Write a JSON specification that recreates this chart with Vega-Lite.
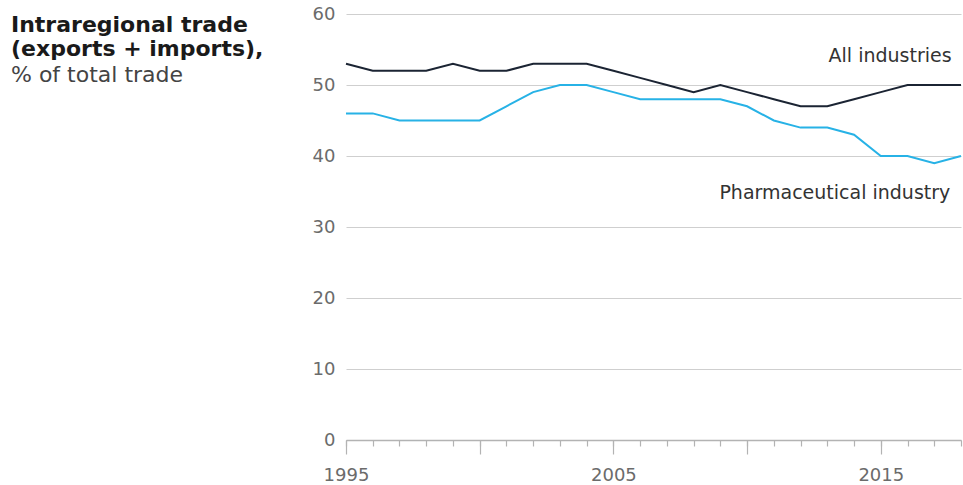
{
  "$schema": "https://vega.github.io/schema/vega-lite/v6.json",
  "width": 615,
  "height": 426,
  "autosize": "none",
  "padding": {"left": 346, "top": 14, "right": 2, "bottom": 45},
  "background": "white",
  "config": {
    "view": {"stroke": null},
    "font": "DejaVu Sans"
  },
  "title": {
    "text": ["Intraregional trade", "(exports + imports),"],
    "subtitle": "% of total trade",
    "anchor": "start",
    "frame": "group",
    "dx": -335,
    "dy": 86,
    "font": "DejaVu Sans",
    "fontSize": 22,
    "fontWeight": "bold",
    "color": "#1a1a1a",
    "lineHeight": 24,
    "subtitleFont": "DejaVu Sans",
    "subtitleFontSize": 22,
    "subtitleColor": "#444444",
    "subtitlePadding": 4,
    "subtitleLineHeight": 23
  },
  "datasets": {
    "trade": [
      {"year": 1995, "series": "All industries", "share": 53},
      {"year": 1996, "series": "All industries", "share": 52},
      {"year": 1997, "series": "All industries", "share": 52},
      {"year": 1998, "series": "All industries", "share": 52},
      {"year": 1999, "series": "All industries", "share": 53},
      {"year": 2000, "series": "All industries", "share": 52},
      {"year": 2001, "series": "All industries", "share": 52},
      {"year": 2002, "series": "All industries", "share": 53},
      {"year": 2003, "series": "All industries", "share": 53},
      {"year": 2004, "series": "All industries", "share": 53},
      {"year": 2005, "series": "All industries", "share": 52},
      {"year": 2006, "series": "All industries", "share": 51},
      {"year": 2007, "series": "All industries", "share": 50},
      {"year": 2008, "series": "All industries", "share": 49},
      {"year": 2009, "series": "All industries", "share": 50},
      {"year": 2010, "series": "All industries", "share": 49},
      {"year": 2011, "series": "All industries", "share": 48},
      {"year": 2012, "series": "All industries", "share": 47},
      {"year": 2013, "series": "All industries", "share": 47},
      {"year": 2014, "series": "All industries", "share": 48},
      {"year": 2015, "series": "All industries", "share": 49},
      {"year": 2016, "series": "All industries", "share": 50},
      {"year": 2017, "series": "All industries", "share": 50},
      {"year": 2018, "series": "All industries", "share": 50},
      {"year": 1995, "series": "Pharmaceutical industry", "share": 46},
      {"year": 1996, "series": "Pharmaceutical industry", "share": 46},
      {"year": 1997, "series": "Pharmaceutical industry", "share": 45},
      {"year": 1998, "series": "Pharmaceutical industry", "share": 45},
      {"year": 1999, "series": "Pharmaceutical industry", "share": 45},
      {"year": 2000, "series": "Pharmaceutical industry", "share": 45},
      {"year": 2001, "series": "Pharmaceutical industry", "share": 47},
      {"year": 2002, "series": "Pharmaceutical industry", "share": 49},
      {"year": 2003, "series": "Pharmaceutical industry", "share": 50},
      {"year": 2004, "series": "Pharmaceutical industry", "share": 50},
      {"year": 2005, "series": "Pharmaceutical industry", "share": 49},
      {"year": 2006, "series": "Pharmaceutical industry", "share": 48},
      {"year": 2007, "series": "Pharmaceutical industry", "share": 48},
      {"year": 2008, "series": "Pharmaceutical industry", "share": 48},
      {"year": 2009, "series": "Pharmaceutical industry", "share": 48},
      {"year": 2010, "series": "Pharmaceutical industry", "share": 47},
      {"year": 2011, "series": "Pharmaceutical industry", "share": 45},
      {"year": 2012, "series": "Pharmaceutical industry", "share": 44},
      {"year": 2013, "series": "Pharmaceutical industry", "share": 44},
      {"year": 2014, "series": "Pharmaceutical industry", "share": 43},
      {"year": 2015, "series": "Pharmaceutical industry", "share": 40},
      {"year": 2016, "series": "Pharmaceutical industry", "share": 40},
      {"year": 2017, "series": "Pharmaceutical industry", "share": 39},
      {"year": 2018, "series": "Pharmaceutical industry", "share": 40}
    ],
    "labels": [
      {"year": 2017.65, "share": 53.3, "series": "All industries"},
      {"year": 2017.6, "share": 33.9, "series": "Pharmaceutical industry"}
    ]
  },
  "resolve": {"axis": {"x": "independent"}},
  "layer": [
    {
      "data": {"name": "trade"},
      "mark": {"type": "line", "strokeWidth": 2, "interpolate": "linear"},
      "encoding": {
        "x": {
          "field": "year",
          "type": "quantitative",
          "scale": {"domain": [1995, 2018], "nice": false, "zero": false},
          "axis": {
            "orient": "bottom",
            "title": null,
            "values": [1995, 2000, 2005, 2010, 2015],
            "format": "d",
            "labelExpr": "datum.value % 10 == 5 ? datum.label : ''",
            "grid": false,
            "domainColor": "#b3b3b3",
            "domainWidth": 1.5,
            "tickColor": "#b3b3b3",
            "tickWidth": 1.2,
            "tickSize": 14,
            "labelPadding": 12,
            "labelFontSize": 18,
            "labelColor": "#6b6b6b",
            "labelFont": "DejaVu Sans",
            "labelFlush": false
          }
        },
        "y": {
          "field": "share",
          "type": "quantitative",
          "scale": {"domain": [0, 60], "nice": false},
          "axis": {
            "title": null,
            "values": [0, 10, 20, 30, 40, 50, 60],
            "grid": true,
            "gridColor": "#cfcfcf",
            "gridWidth": 1.2,
            "domain": false,
            "ticks": false,
            "labelPadding": 11,
            "labelFontSize": 18,
            "labelColor": "#6b6b6b",
            "labelFont": "DejaVu Sans"
          }
        },
        "color": {
          "field": "series",
          "type": "nominal",
          "scale": {
            "domain": ["All industries", "Pharmaceutical industry"],
            "range": ["#1b2433", "#27b2e6"]
          },
          "legend": null
        }
      }
    },
    {
      "data": {"name": "labels"},
      "mark": {
        "type": "text",
        "align": "right",
        "baseline": "alphabetic",
        "fontSize": 19,
        "font": "DejaVu Sans",
        "color": "#333333"
      },
      "encoding": {
        "x": {
          "field": "year",
          "type": "quantitative",
          "axis": {
            "orient": "bottom",
            "title": null,
            "values": [1995, 1996, 1997, 1998, 1999, 2000, 2001, 2002, 2003, 2004, 2005, 2006, 2007, 2008, 2009, 2010, 2011, 2012, 2013, 2014, 2015, 2016, 2017, 2018],
            "labels": false,
            "domain": false,
            "grid": false,
            "tickColor": "#b3b3b3",
            "tickWidth": 1.2,
            "tickSize": 6
          }
        },
        "y": {"field": "share", "type": "quantitative"},
        "text": {"field": "series"}
      }
    }
  ]
}
